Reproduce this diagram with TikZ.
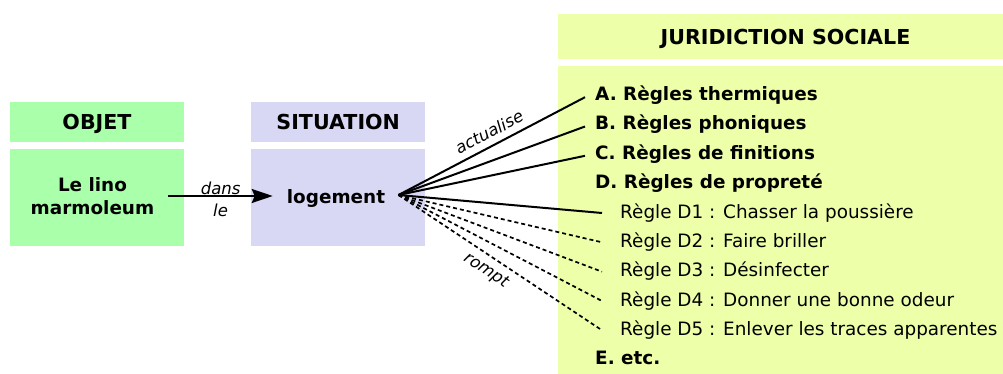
\documentclass[tikz,border=0pt]{standalone}
\usepackage{fontspec}
\setmainfont{DejaVu Sans}
\usepackage{tikz}
\usetikzlibrary{arrows.meta,positioning}
\definecolor{objgreen}{HTML}{AAFFAA}
\definecolor{sitlilac}{HTML}{D8D8F4}
\definecolor{jurlime}{HTML}{EEFFAA}
\newcommand{\fsHead}{\fontsize{20.6}{24}\selectfont\bfseries}
\newcommand{\fsRule}{\fontsize{18.4}{22.6}\selectfont}
\newcommand{\fsTag}{\fontsize{16.5}{22}\selectfont\itshape}
\tikzset{
  headbox/.style={
    rectangle, fill=#1, inner sep=0pt,
    minimum width=174pt, minimum height=40.5pt,
    text height=15pt, text depth=0pt, font=\fsHead
  },
  headbox/.default=objgreen,
  bodybox/.style={
    rectangle, fill=#1, inner sep=0pt,
    minimum width=174pt, minimum height=96.4pt
  },
  bodybox/.default=objgreen,
  termnode/.style={
    font=\fsRule\bfseries, align=center, inner xsep=14pt
  },
  rulebold/.style={
    font=\fsRule\bfseries, anchor=base west, inner xsep=10pt,
    text height=10pt, text depth=3pt
  },
  rulesub/.style={
    font=\fsRule, anchor=base west, inner xsep=18pt,
    text height=12pt, text depth=2pt
  },
  linkline/.style={line width=2pt},
  breakline/.style={line width=1.7pt, dash pattern=on 4pt off 3pt},
  dataarrow/.style={
    -{Stealth[length=21pt, width=14pt, inset=3pt]}, line width=2pt
  },
  labelnode/.style={font=\fsTag, align=center},
}

\begin{document}
\begin{tikzpicture}[x=1pt, y=-1pt]
  \useasboundingbox (0,0) rectangle (1003,374);

  % Colour blocks
  \node[headbox=objgreen] (objhead) at (97,122) {OBJET};
  \node[bodybox=objgreen] (objbody) at (97,197.5) {};
  \node[headbox=sitlilac] (sithead) at (338.2,122) {SITUATION};
  \node[bodybox=sitlilac] (sitbody) at (338.2,197.5) {};
  \node[headbox=jurlime, minimum width=455pt, minimum height=45.3pt]
    (jurhead) at (785.5,36.6) {JURIDICTION SOCIALE};
  \node[bodybox=jurlime, minimum width=455pt, minimum height=308.3pt]
    (jurbody) at (785.5,219.85) {};

  % Object and situation
  \node[termnode] (lino) at (92.5,196) {Le lino\\marmoleum};
  \node[termnode, anchor=base] (logement) at (336,203.3) {logement};
  \coordinate (fan) at (398.5,195);
  \draw[dataarrow] (lino.east) -- node[labelnode, yshift=-3pt] {dans\\le}
    (lino.east -| logement.west);

  % Social rules
  \node[rulebold] (ruleA) at (585,100.7) {A. Règles thermiques};
  \node[rulebold] (ruleB) at (585,130) {B. Règles phoniques};
  \node[rulebold] (ruleC) at (585,159.3) {C. Règles de finitions};
  \node[rulebold] (ruleD) at (585,188.7) {D. Règles de propreté};
  \node[rulesub] (ruleD1) at (602,218) {Règle D1 : Chasser la poussière};
  \node[rulesub] (ruleD2) at (602,247.3) {Règle D2 : Faire briller};
  \node[rulesub] (ruleD3) at (602,276.7) {Règle D3 : Désinfecter};
  \node[rulesub] (ruleD4) at (602,306) {Règle D4 : Donner une bonne odeur};
  \node[rulesub] (ruleD5) at (602,335.3) {Règle D5 : Enlever les traces apparentes};
  \node[rulebold] (ruleE) at (585,364.7) {E. etc.};

  % Links
  \draw[linkline] (fan) -- node[labelnode, sloped, above=3pt, pos=0.52] {actualise}
    (ruleA.west);
  \draw[linkline] (fan) -- (ruleB.west);
  \draw[linkline] (fan) -- (ruleC.west);
  \draw[linkline] (fan) -- (ruleD1.west);
  \draw[breakline] (fan) -- (ruleD2.west);
  \draw[breakline] (fan) -- (ruleD3.west);
  \draw[breakline] (fan) -- (ruleD4.west);
  \draw[breakline] (fan) -- node[labelnode, sloped, below=3pt, pos=0.47] {rompt}
    (ruleD5.west);
\end{tikzpicture}
\end{document}
